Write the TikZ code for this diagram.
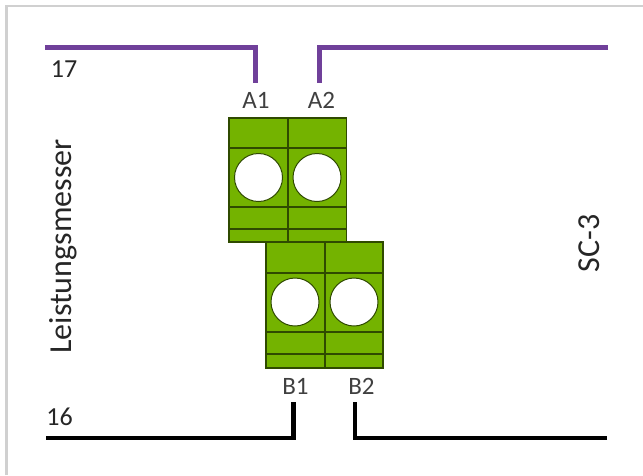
\documentclass[tikz,border=0pt]{standalone}
\usepackage{fontspec}
\setmainfont{Carlito}
\definecolor{termgreen}{HTML}{74B300}
\definecolor{termline}{HTML}{2F4A00}
\definecolor{wirepurple}{HTML}{70409A}
\definecolor{framegrey}{HTML}{D0D0D0}
\definecolor{labelgrey}{HTML}{404040}
\tikzset{
  x=1pt,y=-1pt,
  termbody/.style={fill=termgreen,draw=termline,line width=1.1pt},
  termrule/.style={draw=termline,line width=1.4pt},
  termhole/.style={circle,fill=white,draw=termline,line width=1pt,minimum size=48pt,inner sep=0pt},
  wirep/.style={draw=wirepurple,line width=4.4pt},
  wirek/.style={draw=black,line width=4.4pt},
  pinlabel/.style={font=\fontsize{25}{25}\selectfont,text=labelgrey,inner sep=0pt},
  sidelabel/.style={font=\fontsize{32}{32}\selectfont,text=black!85,inner sep=0pt},
  numlabel/.style={font=\fontsize{26}{26}\selectfont,text=black!85,inner sep=0pt},
  frameline/.style={draw=framegrey,line width=2.6pt}
}
\begin{document}
\begin{tikzpicture}
\useasboundingbox (0,0) rectangle (643,475);
% frame
\coordinate (fTL) at (6.5,6);
\coordinate (fTR) at (643,6);
\coordinate (fBL) at (6.5,475);
\draw[frameline] (fBL) -- (fTL) -- (fTR);
% upper terminal block
\draw[termbody] (229,118) rectangle (346.5,242);
\foreach \yy in {148,207,229} \draw[termrule] (229,\yy) -- (346.5,\yy);
\draw[termrule] (288,118) -- (288,242);
\node[termhole] (h1) at (258.5,177.5) {};
\node[termhole] (h2) at (317,177.5) {};
% lower terminal block
\draw[termbody] (266,242) rectangle (383,368);
\foreach \yy in {273,332,354} \draw[termrule] (266,\yy) -- (383,\yy);
\draw[termrule] (325,242) -- (325,368);
\node[termhole] (h3) at (295,302) {};
\node[termhole] (h4) at (354,302) {};
% labels
\node[pinlabel] (A1) at (256,100.5) {A1};
\node[pinlabel] (A2) at (321.5,100.5) {A2};
\node[pinlabel] (B1) at (295.5,386) {B1};
\node[pinlabel] (B2) at (361.5,386) {B2};
\node[numlabel] (n17) at (64,69.5) {17};
\node[numlabel] (n16) at (59.5,416.5) {16};
\node[sidelabel,rotate=90] (lm) at (63,246.5) {Leistungsmesser};
\node[sidelabel,rotate=90] (sc) at (589,243.5) {SC-3};
% wires
\coordinate (p1a) at (45,47.5);
\coordinate (p1b) at (255.5,47.5);
\coordinate (p1c) at (255.5,83);
\coordinate (p2a) at (608,47.5);
\coordinate (p2b) at (319.5,47.5);
\coordinate (p2c) at (319.5,83);
\coordinate (k1a) at (46,438);
\coordinate (k1b) at (293.5,438);
\coordinate (k1c) at (293.5,402);
\coordinate (k2a) at (607,438);
\coordinate (k2b) at (355,438);
\coordinate (k2c) at (355,402);
\draw[wirep] (p1a) -- (p1b) -- (p1c);
\draw[wirep] (p2a) -- (p2b) -- (p2c);
\draw[wirek] (k1a) -- (k1b) -- (k1c);
\draw[wirek] (k2a) -- (k2b) -- (k2c);
\end{tikzpicture}
\end{document}
